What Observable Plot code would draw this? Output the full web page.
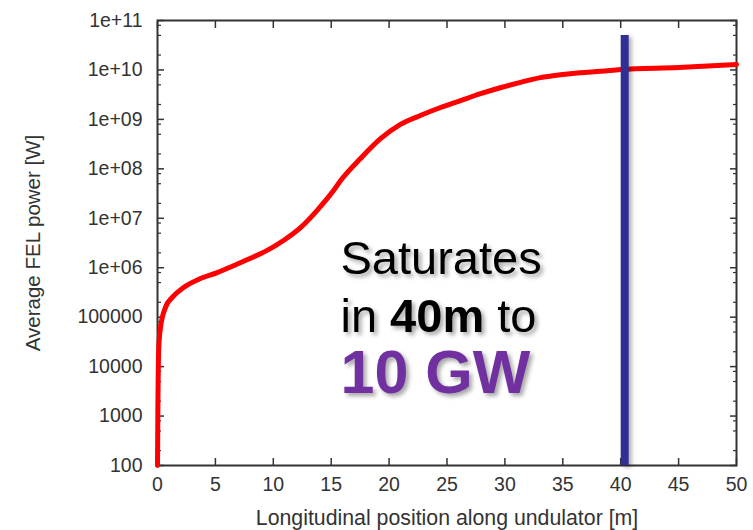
<!DOCTYPE html>
<html><head><meta charset="utf-8">
<script src="https://cdn.jsdelivr.net/npm/d3@7"></script>
<script src="https://cdn.jsdelivr.net/npm/@observablehq/plot@0.6"></script>
<style>
body{margin:0;background:#fff;}
#chart svg{display:block;}
</style>
</head><body><div id="chart"></div>
<script>
// Longitudinal position along undulator [m]
const positions = [0, 0.03, 0.11, 0.26, 0.69, 1.27, 2.25, 3.71, 5.16, 6.56, 8.03, 9.47, 10.88, 12.35, 13.79, 15.2, 15.8, 17.53, 19.26, 20.98, 22.7, 24.44, 26.17, 27.9, 29.6, 31.35, 33.07, 34.8, 36.5, 38.3, 40, 45, 50];
// Average FEL power [W]
const powers = [100, 1120, 24500, 61700, 158000, 251000, 398000, 603000, 794000, 1.1e6, 1.55e6, 2.24e6, 3.55e6, 6.46e6, 1.45e7, 3.63e7, 5.75e7, 1.62e8, 4.07e8, 7.94e8, 1.2e9, 1.74e9, 2.4e9, 3.31e9, 4.37e9, 5.62e9, 7.0e9, 8.0e9, 8.8e9, 9.4e9, 1.02e10, 1.12e10, 1.29e10];

const xTicks = [0, 5, 10, 15, 20, 25, 30, 35, 40, 45, 50];
const yTicks = [1e2, 1e3, 1e4, 1e5, 1e6, 1e7, 1e8, 1e9, 1e10, 1e11];
const yTickLabels = ["100", "1000", "10000", "100000", "1e+06", "1e+07", "1e+08", "1e+09", "1e+10", "1e+11"];
const yMinorFactors = [2, 5, 8];

const xLabel = "Longitudinal position along undulator [m]";
const yLabel = "Average FEL power [W]";

const saturationX = [40];
const saturationTop = 5e10;

const annotationX = 15.8;
const annotationTexts = ["Saturates", "in 40m to", "10 GW"];
const annotationY = [7.3e5, 4.9e4, 2.9e3];

const yMinor = [];
for (const t of yTicks.slice(0, -1)) for (const f of yMinorFactors) yMinor.push(t * f);

const curve = positions.map((x, i) => ({x, y: powers[i]}));
const annot = annotationTexts.map((t, i) => ({t, x: annotationX, y: annotationY[i], i}));

const font = "'Liberation Sans', Arial, Helvetica, sans-serif";
const axisColor = "#333";

const chart = Plot.plot({
  width: 753,
  height: 530,
  marginLeft: 157,
  marginRight: 17,
  marginTop: 20,
  marginBottom: 65,
  style: {fontFamily: font, background: "#fff", overflow: "visible"},
  x: {domain: [0, 50]},
  y: {type: "log", domain: [100, 1e11]},
  marks: [
    Plot.axisX(xTicks, {anchor: "bottom", tickSize: -7, tickPadding: 19, fontSize: 19.5, color: axisColor, strokeWidth: 1.5, label: null}),
    Plot.axisX(xTicks, {anchor: "top", tickSize: -7, stroke: axisColor, fill: "none", strokeWidth: 1.5, label: null}),
    Plot.axisY(yTicks, {anchor: "left", tickSize: -7, tickPadding: 22, fontSize: 19.5, color: axisColor, strokeWidth: 1.5, label: null,
      tickFormat: d => yTickLabels[yTicks.indexOf(d)]}),
    Plot.axisY(yTicks, {anchor: "right", tickSize: -7, stroke: axisColor, fill: "none", strokeWidth: 1.5, label: null}),
    Plot.axisY(yMinor, {anchor: "left", tickSize: -4, stroke: axisColor, fill: "none", strokeWidth: 1.2, label: null}),
    Plot.axisY(yMinor, {anchor: "right", tickSize: -4, stroke: axisColor, fill: "none", strokeWidth: 1.2, label: null}),
    Plot.frame({stroke: axisColor, strokeWidth: 2}),
    Plot.line(curve, {x: "x", y: "y", stroke: "#ff0000", strokeWidth: 5, curve: "monotone-x"}),
    Plot.ruleX(saturationX, {y1: saturationTop, y2: 100, stroke: "#2E3192", strokeWidth: 8, dx: 4}),
    Plot.text(annot.slice(0, 2), {x: "x", y: "y", text: "t", textAnchor: "start", lineAnchor: "bottom", fontSize: 47, fill: "#000"}),
    Plot.text(annot.slice(2), {x: "x", y: "y", text: "t", textAnchor: "start", lineAnchor: "bottom", fontSize: 61, fontWeight: "bold", fill: "#7030A0"}),
    Plot.text([xLabel], {frameAnchor: "bottom", dy: 59, lineAnchor: "bottom", fontSize: 21.3, fill: axisColor}),
    Plot.text([yLabel], {frameAnchor: "left", textAnchor: "middle", dx: -124, rotate: -90, fontSize: 20.5, fill: axisColor})
  ]
});

// style the annotation: bold "40m" and drop shadows
chart.querySelectorAll("text").forEach(el => {
  const s = el.textContent;
  if (s === "in 40m to") {
    el.textContent = "";
    const parts = [["in ", "normal"], ["40m", "bold"], [" to", "normal"]];
    for (const [txt, w] of parts) {
      const ts = document.createElementNS("http://www.w3.org/2000/svg", "tspan");
      ts.textContent = txt;
      ts.setAttribute("font-weight", w);
      el.appendChild(ts);
    }
    el.setAttribute("xml:space", "preserve");
    el.style.whiteSpace = "pre";
  }
  if (annotationTexts.includes(s)) {
    el.style.filter = "drop-shadow(3px 3px 2px rgba(0,0,0,0.35))";
  }
});
chart.querySelectorAll("g[aria-label='rule']").forEach(g => {
  g.style.filter = "drop-shadow(3px 2px 2px rgba(0,0,0,0.3))";
});

document.getElementById("chart").appendChild(chart);
</script>
</body></html>
